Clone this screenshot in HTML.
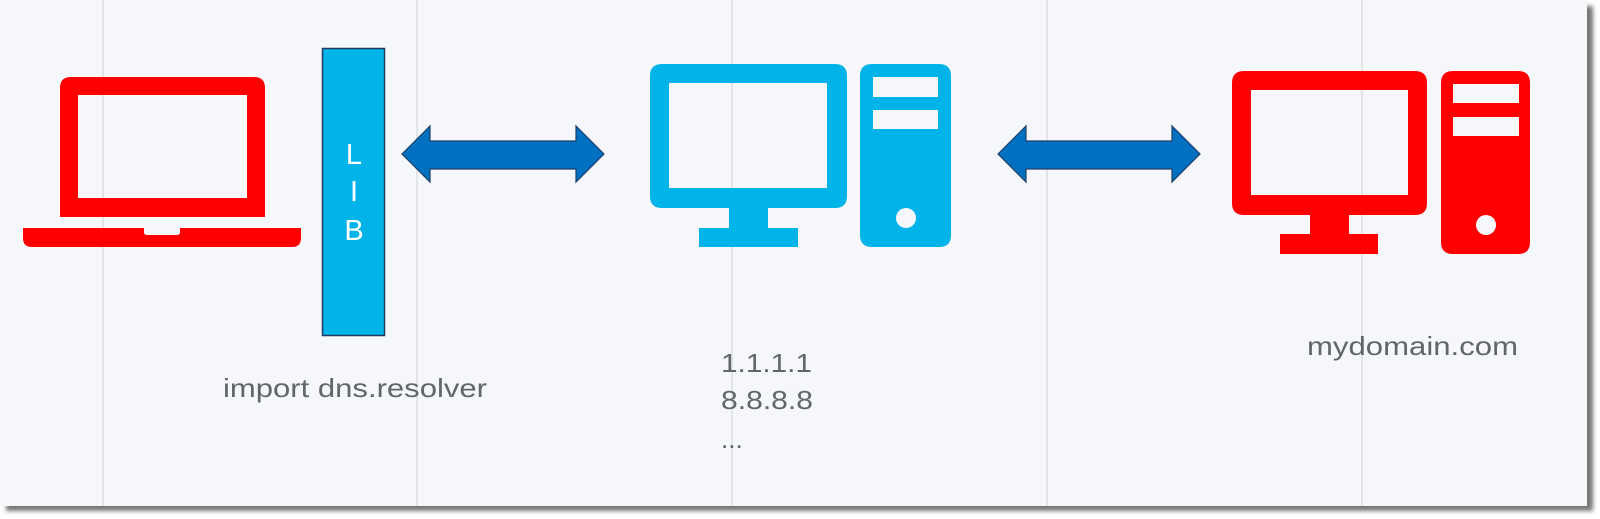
<!DOCTYPE html>
<html><head><meta charset="utf-8"><style>
html,body{margin:0;padding:0;background:#fff;width:1600px;height:519px;overflow:hidden}
</style></head><body>
<svg width="1600" height="519" viewBox="0 0 1600 519" xmlns="http://www.w3.org/2000/svg" font-family="'Liberation Sans', sans-serif">
<defs><filter id="sh" x="-5%" y="-5%" width="110%" height="115%"><feGaussianBlur stdDeviation="2"/></filter></defs>
<rect x="6" y="6" width="1587" height="505" fill="#777" filter="url(#sh)"/>
<rect x="0" y="0" width="1587" height="506" fill="#f6f7fb"/>
<g stroke="#e2e4e9" stroke-width="2">
<line x1="103" y1="0" x2="103" y2="506"/><line x1="417" y1="0" x2="417" y2="506"/>
<line x1="732" y1="0" x2="732" y2="506"/><line x1="1047" y1="0" x2="1047" y2="506"/>
<line x1="1362" y1="0" x2="1362" y2="506"/>
</g>
<!-- laptop -->
<path fill="#ff0000" fill-rule="evenodd" d="M60 217 V88 Q60 77 71 77 H254 Q265 77 265 88 V217 Z M78 95 V198 H247 V95 Z"/>
<path fill="#ff0000" d="M23 228 H144 V232 Q144 235 147 235 H177 Q180 235 180 232 V228 H301 V238 Q301 247 292 247 H32 Q23 247 23 238 Z"/>
<!-- LIB -->
<rect x="322.5" y="48.5" width="62" height="287" fill="#00b4ea" stroke="#1f3a5c" stroke-width="1.5"/>
<g fill="#fff" font-size="29" text-anchor="middle"><text x="354" y="164">L</text><text x="354" y="201">I</text><text x="354" y="240">B</text></g>
<!-- arrows -->
<path fill="#0070c0" stroke="#1f3f66" stroke-width="1.2" d="M402 154 L430 126 V141 H576 V126 L604 154 L576 182 V169 H430 V182 Z"/>
<path fill="#0070c0" stroke="#1f3f66" stroke-width="1.2" d="M998 154 L1026 126 V141 H1172 V126 L1200 154 L1172 182 V169 H1026 V182 Z"/>
<!-- blue computer -->
<path fill="#00b4ea" fill-rule="evenodd" d="M662 64 H835 Q847 64 847 76 V196 Q847 208 835 208 H662 Q650 208 650 196 V76 Q650 64 662 64 Z M669 83 V188 H827 V83 Z"/>
<rect x="729" y="207" width="39" height="22" fill="#00b4ea"/>
<rect x="699" y="228" width="99" height="19" fill="#00b4ea"/>
<path fill="#00b4ea" fill-rule="evenodd" d="M872 64 H939 Q951 64 951 76 V235 Q951 247 939 247 H872 Q860 247 860 235 V76 Q860 64 872 64 Z M873 77 V97 H938 V77 Z M873 110 V129 H938 V110 Z"/>
<circle cx="906" cy="218" r="10" fill="#f6f7fb"/>
<!-- red computer -->
<path fill="#ff0000" fill-rule="evenodd" d="M1244 71 H1415 Q1427 71 1427 83 V203 Q1427 215 1415 215 H1244 Q1232 215 1232 203 V83 Q1232 71 1244 71 Z M1251 90 V195 H1408 V90 Z"/>
<rect x="1310" y="214" width="39" height="21" fill="#ff0000"/>
<rect x="1280" y="234" width="98" height="20" fill="#ff0000"/>
<path fill="#ff0000" fill-rule="evenodd" d="M1453 71 H1518 Q1530 71 1530 83 V242 Q1530 254 1518 254 H1453 Q1441 254 1441 242 V83 Q1441 71 1453 71 Z M1453 84 V103 H1519 V84 Z M1453 117 V136 H1519 V117 Z"/>
<circle cx="1486" cy="225" r="10" fill="#f6f7fb"/>
<!-- labels -->
<g fill="#626569" font-size="26">
<text x="223" y="397" textLength="264" lengthAdjust="spacingAndGlyphs">import dns.resolver</text>
<text x="721" y="372" textLength="91" lengthAdjust="spacingAndGlyphs">1.1.1.1</text>
<text x="721" y="409" textLength="92" lengthAdjust="spacingAndGlyphs">8.8.8.8</text>
<text x="721" y="448">...</text>
<text x="1307" y="355" textLength="211" lengthAdjust="spacingAndGlyphs">mydomain.com</text>
</g>
</svg>
</body></html>
